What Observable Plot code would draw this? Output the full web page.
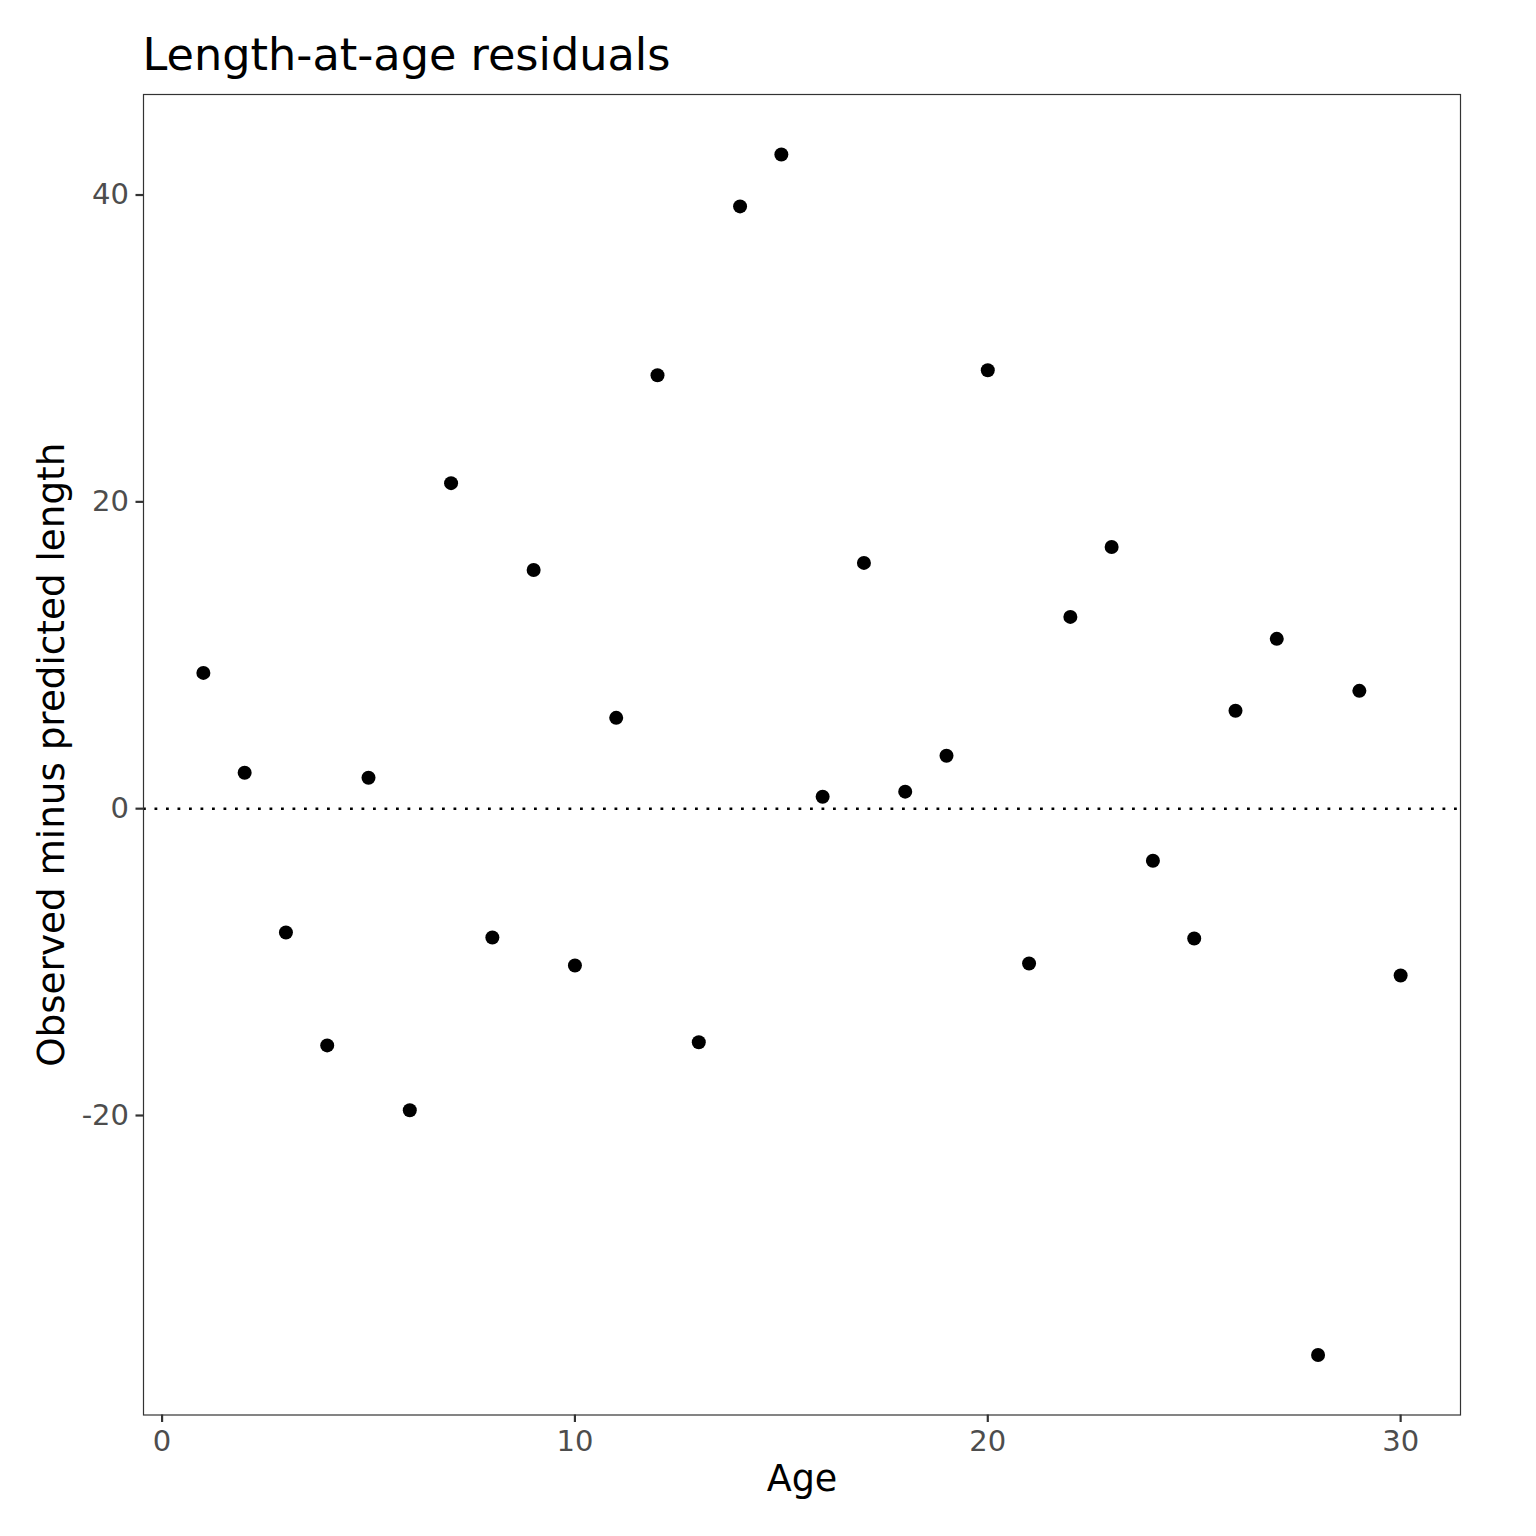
<!DOCTYPE html>
<html>
<head>
<meta charset="utf-8">
<script src="https://cdn.jsdelivr.net/npm/d3@7"></script>
<script src="https://cdn.jsdelivr.net/npm/@observablehq/plot@0.6"></script>
<style>
  html, body { margin: 0; padding: 0; background: #ffffff; }
  #chart svg { display: block; }
</style>
</head>
<body>
<div id="chart"></div>
<script>
const ages = [1,2,3,4,5,6,7,8,9,10,11,12,13,14,15,16,17,18,19,20,21,22,23,24,25,26,27,28,29,30];
const residuals = [8.85,2.34,-8.07,-15.43,2.02,-19.66,21.22,-8.40,15.56,-10.22,5.92,28.25,-15.23,39.26,42.64,0.78,16.02,1.11,3.45,28.58,-10.09,12.5,17.06,-3.39,-8.46,6.38,11.07,-35.61,7.68,-10.87];
const xTicks = [0, 10, 20, 30];
const yTicks = [-20, 0, 20, 40];
const titleText = "Length-at-age residuals";
const xLabel = "Age";
const yLabel = "Observed minus predicted length";

const data = ages.map((a, i) => ({age: a, resid: residuals[i]}));

function expand(ext, f = 0.05) {
  const r = ext[1] - ext[0];
  return [ext[0] - r * f, ext[1] + r * f];
}

const font = "DejaVu Sans";
const fmt = d => String(d);

const chart = Plot.plot({
  width: 1536,
  height: 1536,
  marginLeft: 143,
  marginRight: 76,
  marginTop: 94,
  marginBottom: 121.5,
  style: {fontFamily: font, background: "#ffffff"},
  x: {domain: expand(d3.extent(ages))},
  y: {domain: expand(d3.extent(residuals))},
  marks: [
    Plot.ruleY([0], {stroke: "#000", strokeWidth: 2.5, strokeDasharray: "2.8,8.7"}),
    Plot.dot(data, {x: "age", y: "resid", r: 7, fill: "#000", stroke: null}),
    Plot.frame({stroke: "#333", strokeWidth: 1.2}),
    Plot.axisX(xTicks, {ticks: xTicks, tickFormat: fmt, tickSize: 7.5, tickPadding: 8, fontSize: 29, stroke: "#333", fill: "#4d4d4d", strokeWidth: 2.2, label: null}),
    Plot.axisY(yTicks, {ticks: yTicks, tickFormat: fmt, tickSize: 7.5, tickPadding: 7, fontSize: 29, stroke: "#333", fill: "#4d4d4d", strokeWidth: 2.2, label: null}),
    Plot.text([titleText], {frameAnchor: "top-left", textAnchor: "start", lineAnchor: "bottom", dx: -1, dy: -25, fontSize: 44.6, fill: "#000"}),
    Plot.text([xLabel], {frameAnchor: "bottom", textAnchor: "middle", lineAnchor: "bottom", dy: 76, fontSize: 36.5, fill: "#000"}),
    Plot.text([yLabel], {frameAnchor: "left", textAnchor: "middle", lineAnchor: "bottom", rotate: -90, dx: -79.4, fontSize: 37.3, fill: "#000"})
  ]
});

document.getElementById("chart").appendChild(chart);
</script>
</body>
</html>
